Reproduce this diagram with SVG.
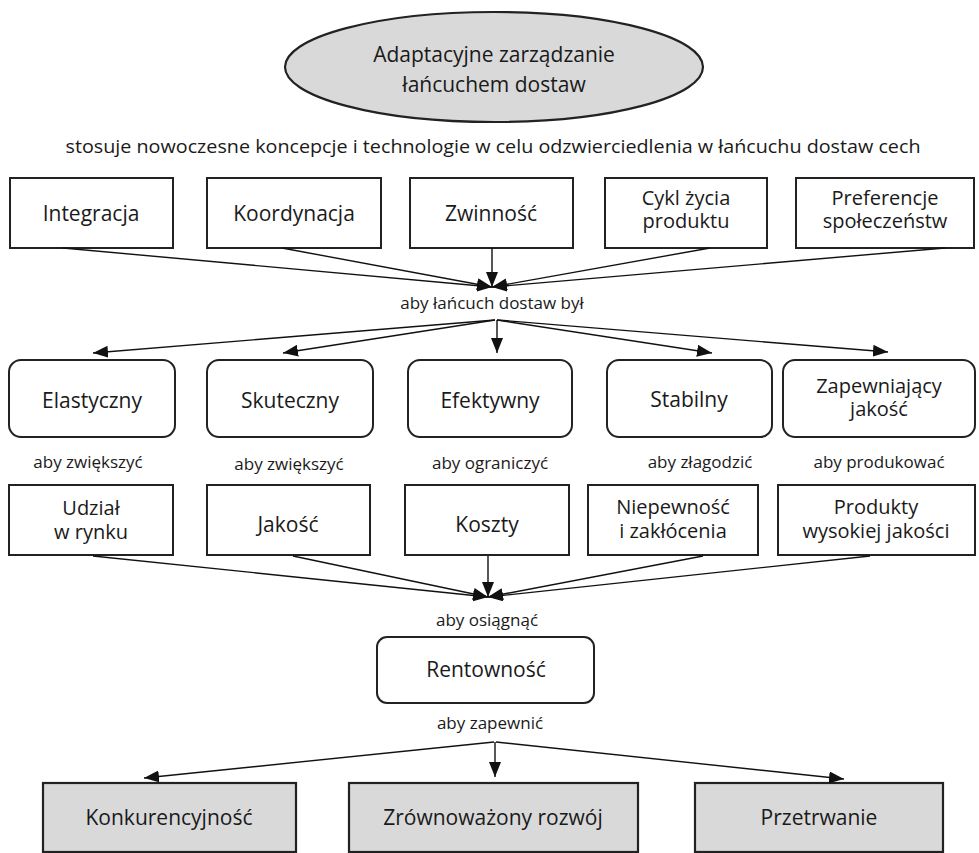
<svg xmlns="http://www.w3.org/2000/svg" width="979" height="853" viewBox="0 0 979 853">
<defs>
<marker id="ah" markerUnits="userSpaceOnUse" markerWidth="15" markerHeight="12" refX="15" refY="6" orient="auto">
<path d="M0,0 L15,6 L0,12 z" fill="#111"/>
</marker>
<style>
text{font-family:"Open Sans","Noto Sans","Liberation Sans",sans-serif;fill:#1a1a1a;text-anchor:middle}
.t{font-size:21px}
.t2{font-size:20px}
.s{font-size:17px}
.box{fill:#fff;stroke:#222;stroke-width:2}
.grey{fill:#d9d9d9;stroke:#222;stroke-width:2.2}
.c line{stroke:#111;stroke-width:1.4;marker-end:url(#ah)}
</style>
</defs>
<rect width="979" height="853" fill="#fff"/>

<g id="root">
<ellipse class="grey" cx="494" cy="67" rx="209" ry="55"/>
<text class="t" x="494" y="62">Adaptacyjne zarządzanie</text>
<text class="t" x="494" y="92">łańcuchem dostaw</text>
</g>

<text class="s" x="493" y="153" style="font-size:18px" textLength="855" lengthAdjust="spacingAndGlyphs">stosuje nowoczesne koncepcje i technologie w celu odzwierciedlenia w łańcuchu dostaw cech</text>

<g id="integracja"><rect class="box" x="10" y="178" width="163" height="70"/><text class="t" x="91" y="221">Integracja</text></g>
<g id="koordynacja"><rect class="box" x="207" y="178" width="174" height="70"/><text class="t" x="294" y="221">Koordynacja</text></g>
<g id="zwinnosc"><rect class="box" x="410" y="178" width="163" height="70"/><text class="t" x="491" y="221">Zwinność</text></g>
<g id="cykl"><rect class="box" x="605" y="178" width="162" height="70"/><text class="t2" x="686" y="205">Cykl życia</text><text class="t2" x="686" y="228">produktu</text></g>
<g id="preferencje"><rect class="box" x="796" y="178" width="178" height="70"/><text class="t2" x="885" y="205">Preferencje</text><text class="t2" x="885" y="228">społeczeństw</text></g>

<text class="s" x="492" y="309">aby łańcuch dostaw był</text>

<g id="elastyczny"><rect class="box" x="9" y="360" width="166" height="77" rx="12"/><text class="t" x="92" y="408">Elastyczny</text></g>
<g id="skuteczny"><rect class="box" x="207" y="360" width="166" height="77" rx="12"/><text class="t" x="290" y="408">Skuteczny</text></g>
<g id="efektywny"><rect class="box" x="408" y="360" width="164" height="77" rx="12"/><text class="t" x="490" y="408">Efektywny</text></g>
<g id="stabilny"><rect class="box" x="607" y="360" width="165" height="77" rx="12"/><text class="t" x="689" y="407">Stabilny</text></g>
<g id="zapewniajacy"><rect class="box" x="783" y="360" width="192" height="77" rx="12"/><text class="t2" x="879" y="393">Zapewniający</text><text class="t2" x="879" y="416">jakość</text></g>

<text class="s" x="88" y="468">aby zwiększyć</text>
<text class="s" x="289" y="470">aby zwiększyć</text>
<text class="s" x="490" y="469">aby ograniczyć</text>
<text class="s" x="700" y="468">aby złagodzić</text>
<text class="s" x="879" y="468">aby produkować</text>

<g id="udzial"><rect class="box" x="9" y="485" width="164" height="70"/><text class="t2" x="91" y="515">Udział</text><text class="t2" x="91" y="539">w rynku</text></g>
<g id="jakosc"><rect class="box" x="207" y="485" width="163" height="70"/><text class="t" x="288" y="532">Jakość</text></g>
<g id="koszty"><rect class="box" x="405" y="485" width="164" height="70"/><text class="t" x="487" y="532">Koszty</text></g>
<g id="niepewnosc"><rect class="box" x="588" y="485" width="170" height="70"/><text class="t2" x="673" y="514">Niepewność</text><text class="t2" x="673" y="538">i zakłócenia</text></g>
<g id="produkty"><rect class="box" x="778" y="485" width="197" height="70"/><text class="t2" x="876" y="514">Produkty</text><text class="t2" x="876" y="538">wysokiej jakości</text></g>

<text class="s" x="487" y="626">aby osiągnąć</text>

<g id="rentownosc"><rect class="box" x="377" y="637" width="217" height="66" rx="10"/><text class="t" x="486" y="677">Rentowność</text></g>

<text class="s" x="490" y="729">aby zapewnić</text>

<g id="konkurencyjnosc"><rect class="grey" x="43" y="783" width="253" height="69"/><text class="t" x="169" y="825">Konkurencyjność</text></g>
<g id="zrownowazony"><rect class="grey" x="349" y="783" width="289" height="69"/><text class="t" x="493" y="825">Zrównoważony rozwój</text></g>
<g id="przetrwanie"><rect class="grey" x="695" y="783" width="248" height="69"/><text class="t" x="819" y="825">Przetrwanie</text></g>

<g id="connectors" class="c">
<line x1="63" y1="248" x2="492" y2="287"/>
<line x1="282" y1="248" x2="492" y2="287"/>
<line x1="492" y1="248" x2="492" y2="287"/>
<line x1="710" y1="248" x2="492" y2="287"/>
<line x1="945" y1="248" x2="492" y2="287"/>

<line x1="495" y1="320" x2="93" y2="353"/>
<line x1="495" y1="320" x2="283" y2="353"/>
<line x1="497" y1="320" x2="497" y2="353"/>
<line x1="497" y1="320" x2="712" y2="353"/>
<line x1="497" y1="320" x2="888" y2="352"/>

<line x1="93" y1="556" x2="488" y2="597"/>
<line x1="293" y1="556" x2="488" y2="597"/>
<line x1="488" y1="556" x2="488" y2="597"/>
<line x1="703" y1="556" x2="488" y2="597"/>
<line x1="870" y1="556" x2="488" y2="597"/>

<line x1="494" y1="742" x2="144" y2="778"/>
<line x1="495" y1="742" x2="495" y2="777"/>
<line x1="496" y1="742" x2="844" y2="779"/>
</g>
</svg>
